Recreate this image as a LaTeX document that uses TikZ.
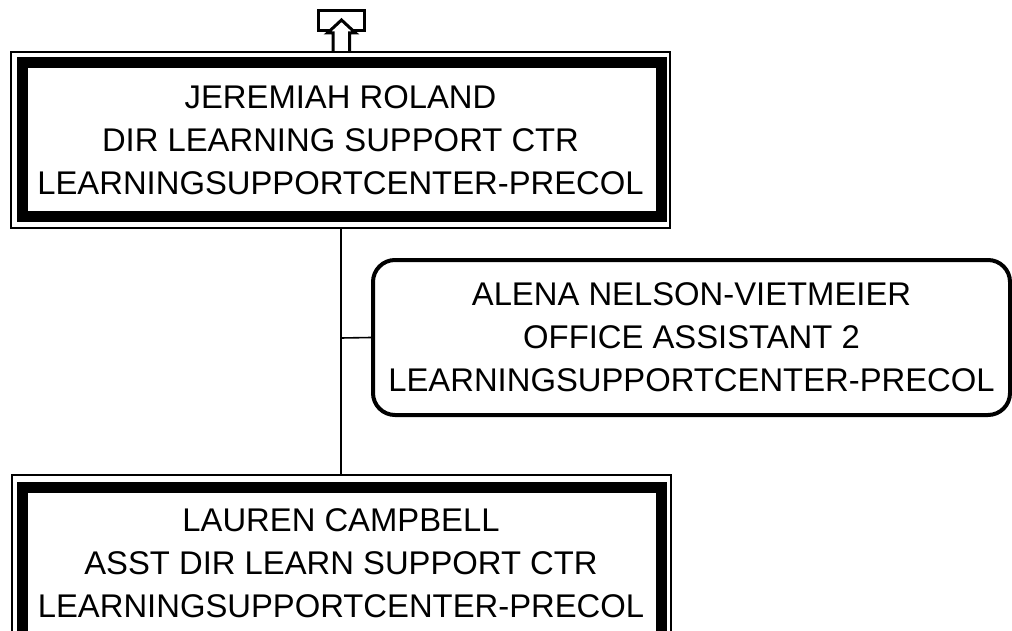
\documentclass[tikz,border=0pt]{standalone}
\usepackage{fontspec}
\setmainfont{Liberation Sans}
\begin{document}
\begin{tikzpicture}[x=1pt,y=-1pt,
  boxfont/.style={font=\fontsize{32.8}{43}\selectfont, align=center},
  outerbox/.style={draw, line width=2pt, minimum width=659pt, minimum height=176pt, inner sep=0pt, boxfont},
  thickline/.style={line width=11pt},
  roundbox/.style={draw, line width=4pt, rounded corners=22pt, minimum width=637pt, minimum height=155pt, inner sep=0pt, boxfont},
  conn/.style={line width=1.6pt}
]
\useasboundingbox (0,0) rectangle (1012,631);
\clip (0,0) rectangle (1012,631);
% top box
\node[outerbox] (top) at (340.5,140) {JEREMIAH ROLAND\\DIR LEARNING SUPPORT CTR\\LEARNINGSUPPORTCENTER-PRECOL};
\draw[thickline] ([shift={(12,12)}]top.north west) rectangle ([shift={(-9.5,-12)}]top.south east);
% assistant box
\node[roundbox] (alena) at (691.5,337.5) {ALENA NELSON-VIETMEIER\\OFFICE ASSISTANT 2\\LEARNINGSUPPORTCENTER-PRECOL};
% bottom box
\node[outerbox] (bottom) at (341,563) {LAUREN CAMPBELL\\ASST DIR LEARN SUPPORT CTR\\LEARNINGSUPPORTCENTER-PRECOL};
\draw[thickline] ([shift={(12,13)}]bottom.north west) rectangle ([shift={(-10,-12)}]bottom.south east);
% connectors
\draw[conn] (top.south -| 341,0) -- (bottom.north -| 341,0);
\coordinate (branch) at (341,338);
\draw[conn] (branch) -- (alena.west);
% up marker
\node[draw, line width=3pt, minimum width=46pt, minimum height=20pt, inner sep=0pt] (upbox) at (341.5,20.5) {};
\draw[line width=3pt, fill=white, line join=miter]
  (333,51) -- (333,33) -- (327.5,33) -- (341.5,20) -- (355.5,33) -- (349.5,33) -- (349.5,51);
\end{tikzpicture}
\end{document}
